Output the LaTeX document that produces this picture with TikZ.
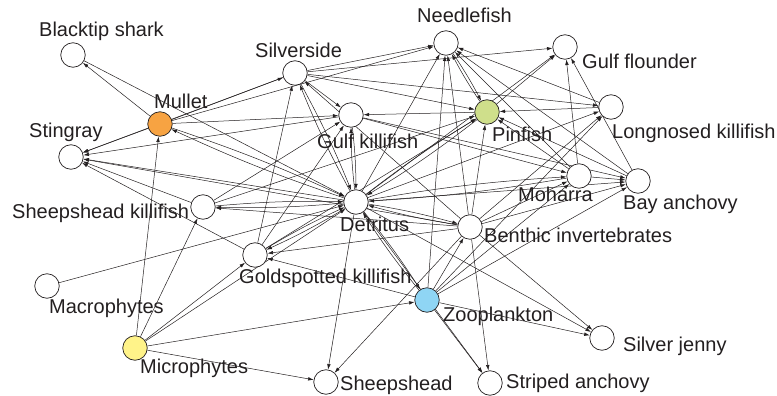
\documentclass[tikz,border=0pt]{standalone}
\usepackage{fontspec}
\setmainfont{Liberation Sans}
\usetikzlibrary{arrows.meta}
\pgfdeclarelayer{texts}
\pgfdeclarelayer{links}
\pgfsetlayers{texts,links,main}
\definecolor{ink}{HTML}{231F20}
\definecolor{mulletfill}{HTML}{F7A342}
\definecolor{pinfill}{HTML}{CFDF8B}
\definecolor{microfill}{HTML}{FFF389}
\definecolor{zoofill}{HTML}{8FD5F4}
\begin{document}
\begin{tikzpicture}[x=1pt,y=-1pt,
  sp/.style={circle,draw=ink,line width=0.7pt,fill=white,minimum size=24.5pt,inner sep=0pt},
  lab/.style={font=\fontsize{20}{24}\selectfont,text=ink,inner sep=0pt,anchor=base west},
  link/.style={draw=ink,line width=0.5pt,-{Latex[length=5.5pt,width=3.6pt]}}]
\useasboundingbox (0,0) rectangle (777,396);

% species and pools
\node[sp] (BS) at (73,55) {};
\node[sp,fill=mulletfill] (MU) at (160,124) {};
\node[sp] (ST) at (71,157) {};
\node[sp] (SV) at (295,73) {};
\node[sp] (NF) at (446,43) {};
\node[sp] (GK) at (351,115) {};
\node[sp,fill=pinfill] (PF) at (487,112) {};
\node[sp] (GF) at (565,47) {};
\node[sp] (LK) at (611,107) {};
\node[sp] (MO) at (579,176) {};
\node[sp] (BA) at (638,181) {};
\node[sp] (SK) at (203,207) {};
\node[sp] (DE) at (356,202) {};
\node[sp] (BI) at (470,227) {};
\node[sp] (GO) at (255,255) {};
\node[sp] (MA) at (47,286) {};
\node[sp,fill=microfill] (MI) at (135,348) {};
\node[sp,fill=zoofill] (ZO) at (427,300) {};
\node[sp] (SJ) at (602,338) {};
\node[sp] (SH) at (326,382) {};
\node[sp] (SA) at (490,383) {};

% names
\begin{pgfonlayer}{texts}
\node[lab] (tBS) at (39,37) {Blacktip shark};
\node[lab] (tMU) at (154,109) {Mullet};
\node[lab] (tST) at (29,137) {Stingray};
\node[lab] (tSV) at (255,58) {Silverside};
\node[lab] (tNF) at (417,23) {Needlefish};
\node[lab] (tGK) at (317,148) {Gulf killifish};
\node[lab] (tPF) at (492,142) {Pinfish};
\node[lab] (tGF) at (582,69) {Gulf flounder};
\node[lab] (tLK) at (612,139) {Longnosed killifish};
\node[lab] (tMO) at (518,201) {Moharra};
\node[lab] (tBA) at (623,209) {Bay anchovy};
\node[lab] (tBI) at (484,242) {Benthic invertebrates};
\node[lab] (tSK) at (12,218) {Sheepshead killifish};
\node[lab] (tDE) at (340,231) {Detritus};
\node[lab] (tGO) at (239,283) {Goldspotted killifish};
\node[lab] (tMA) at (49,313) {Macrophytes};
\node[lab] (tMI) at (140,373) {Microphytes};
\node[lab] (tZO) at (443,321) {Zooplankton};
\node[lab] (tSJ) at (623,351) {Silver jenny};
\node[lab] (tSH) at (340,390) {Sheepshead};
\node[lab] (tSA) at (506,388) {Striped anchovy};
\end{pgfonlayer}

% feeding links, prey to consumer
\begin{pgfonlayer}{links}
\foreach \a/\b in {MI/MU, MI/SK, MI/GO, MI/DE, MI/ZO, MI/SH, MA/DE,
  BS/DE, MU/BS, MU/ST, MU/NF, MU/SV, MU/GK,
  SV/ST, SV/NF, SV/GF, SV/PF, SV/GK, SV/LK,
  GK/ST, GK/MO, GK/BA, PF/GK, LK/PF,
  SK/ST, SK/GK, SK/PF,
  GO/ST, GO/GK, GO/PF, GO/SV,
  DE/ST, BI/ST,
  BI/NF, BI/PF, BI/MO, BI/BA, BI/LK, BI/SJ, BI/SA, BI/SH, BI/GO, BI/SK, BI/SV,
  ZO/NF, ZO/MO, ZO/BA, ZO/LK, ZO/SJ, ZO/SA, ZO/GO, ZO/BI,
  PF/GF, MO/NF, MO/PF, MO/GF, MO/BA, BA/NF, BA/PF, BA/GF, LK/NF,
  DE/GF, DE/SA, DE/SJ, DE/NF, DE/BA, DE/LK, DE/SH}
  \draw[link] (\a) -- (\b);
% two-way exchanges
\foreach \a/\b in {DE/MU, DE/SK, DE/GO, DE/GK, DE/SV, DE/ZO, DE/PF, DE/MO, DE/BI, PF/NF}
  {\draw[link] (\a) to[bend left=3] (\b);
   \draw[link] (\b) to[bend left=3] (\a);}
\end{pgfonlayer}
\end{tikzpicture}
\end{document}
